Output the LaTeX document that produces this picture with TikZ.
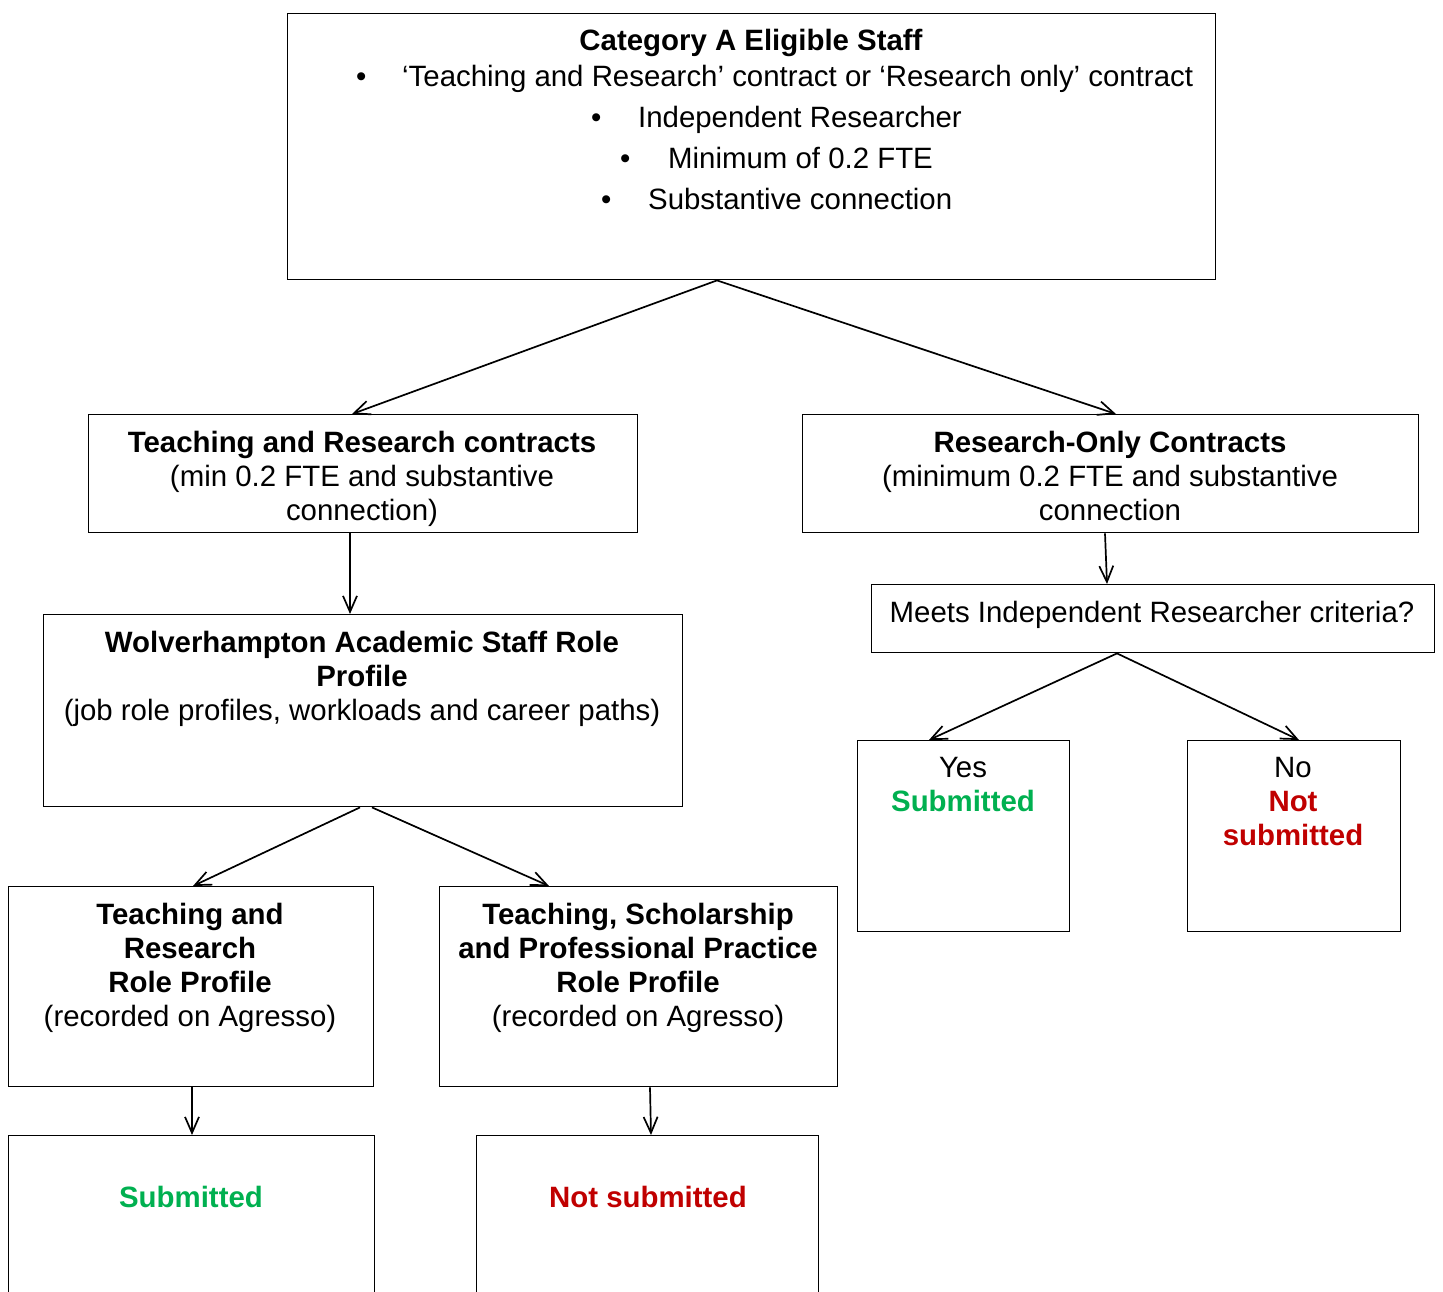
\documentclass[tikz,border=0pt]{standalone}
\usepackage{fontspec}
\setmainfont{Liberation Sans}
\usetikzlibrary{arrows.meta,calc}
\definecolor{subgreen}{RGB}{0,176,80}
\definecolor{notred}{RGB}{192,0,0}
\begin{document}
\begin{tikzpicture}[x=1pt,y=-1pt,
  box/.style={draw, line width=1.4pt, inner sep=0pt, anchor=north west},
  txt/.style={inner sep=0pt, align=center, anchor=north, font=\fontsize{29.4}{34}\selectfont},
  btxt/.style={inner sep=0pt, anchor=base west, font=\fontsize{29.4}{34}\selectfont},
  conn/.style={line width=1.7pt, -{Straight Barb[length=16pt,width=14pt,line width=1.7pt]}}]
\useasboundingbox (0,0) rectangle (1443,1292);
\clip (0,0) rectangle (1443,1292);
% boxes
\node[box, minimum width=928pt, minimum height=266pt] (top) at (287,13) {};
\node[box, minimum width=549pt, minimum height=118pt] (tr) at (88,414) {};
\node[box, minimum width=616pt, minimum height=118pt] (ro) at (802,414) {};
\node[box, minimum width=563pt, minimum height=68pt] (meets) at (871,584) {};
\node[box, minimum width=212pt, minimum height=191pt] (yes) at (857,740) {};
\node[box, minimum width=213pt, minimum height=191pt] (no) at (1187,740) {};
\node[box, minimum width=639pt, minimum height=192pt] (was) at (43,614) {};
\node[box, minimum width=365pt, minimum height=200pt] (trrp) at (8,886) {};
\node[box, minimum width=398pt, minimum height=200pt] (tspp) at (439,886) {};
\node[box, minimum width=366pt, minimum height=220pt] (sub) at (8,1135) {};
\node[box, minimum width=342pt, minimum height=220pt] (notsub) at (476,1135) {};
% texts
\node[txt] (ttitle) at (751,29) {\bfseries Category A Eligible Staff};
\node[btxt] (tb1) at (356,87) {\makebox[46pt][l]{•}‘Teaching and Research’ contract or ‘Research only’ contract};
\node[btxt] (tb2) at (591,128) {\makebox[47pt][l]{•}Independent Researcher};
\node[btxt] (tb3) at (620,169) {\makebox[48pt][l]{•}Minimum of 0.2 FTE};
\node[btxt] (tb4) at (601,210) {\makebox[47pt][l]{•}Substantive connection};
\node[txt] (ttr) at (362,431) {\textbf{Teaching and Research contracts}\\(min 0.2 FTE and substantive\\connection)};
\node[txt] (tro) at (1110,431) {\textbf{Research-Only Contracts}\\(minimum 0.2 FTE and substantive\\connection};
\node[txt] (tmeets) at (1152,601) {Meets Independent Researcher criteria?};
\node[txt] (tyes) at (963,757) {Yes\\\textcolor{subgreen}{\bfseries Submitted}};
\node[txt] (tno) at (1293,757) {No\\\textcolor{notred}{\bfseries Not}\\\textcolor{notred}{\bfseries submitted}};
\node[txt] (twas) at (362,631) {\textbf{Wolverhampton Academic Staff Role}\\\textbf{Profile}\\(job role profiles, workloads and career paths)};
\node[txt] (ttrrp) at (190,903) {\textbf{Teaching and}\\\textbf{Research}\\\textbf{Role Profile}\\(recorded on Agresso)};
\node[txt] (ttspp) at (638,903) {\textbf{Teaching, Scholarship}\\\textbf{and Professional Practice}\\\textbf{Role Profile}\\(recorded on Agresso)};
\node[txt] (tsub) at (191,1186) {\textcolor{subgreen}{\bfseries Submitted}};
\node[txt] (tnotsub) at (648,1186) {\textcolor{notred}{\bfseries Not submitted}};
% connectors
\draw[conn] ($(top.south west)+(430,0)$) -- ($(tr.north west)+(264,0)$);
\draw[conn] ($(top.south west)+(430,0)$) -- ($(ro.north west)+(314,0)$);
\draw[conn] ($(tr.south west)+(262,0)$) -- ($(was.north west)+(307,0)$);
\draw[conn] ($(ro.south west)+(303,0)$) -- ($(meets.north west)+(236,0)$);
\draw[conn] ($(meets.south west)+(246,0)$) -- ($(yes.north west)+(72,0)$);
\draw[conn] ($(meets.south west)+(246,0)$) -- ($(no.north west)+(112,0)$);
\draw[conn] ($(was.south west)+(317,0)$) -- ($(trrp.north west)+(185,0)$);
\draw[conn] ($(was.south west)+(329,0)$) -- ($(tspp.north west)+(110,0)$);
\draw[conn] ($(trrp.south west)+(184,0)$) -- ($(sub.north west)+(184,0)$);
\draw[conn] ($(tspp.south west)+(211,0)$) -- ($(notsub.north west)+(175,0)$);
\end{tikzpicture}
\end{document}
